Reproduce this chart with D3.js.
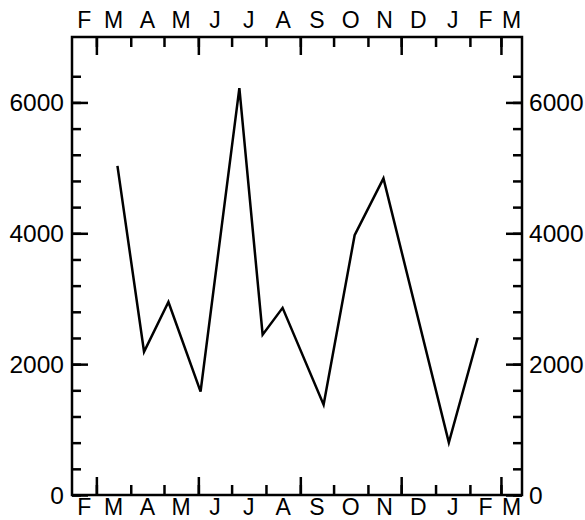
<!DOCTYPE html>
<html>
<head>
<meta charset="utf-8">
<script src="https://cdn.jsdelivr.net/npm/d3@7"></script>
<style>
  html, body { margin: 0; padding: 0; background: #fff; }
  svg { display: block; }
  text { font-family: "Liberation Sans", Arial, Helvetica, sans-serif; fill: #000; }
</style>
</head>
<body>
<svg id="chart"></svg>
<script>
// sample dates and values
const dates = ["2001-03-20", "2001-04-13", "2001-05-05", "2001-06-03", "2001-07-08", "2001-07-29",
               "2001-08-16", "2001-09-22", "2001-10-20", "2001-11-15", "2002-01-13", "2002-02-08"];
const values = [5030, 2190, 2950, 1580, 6220, 2450, 2860, 1380, 3970, 4840, 800, 2400];

const monthLetters = ["F", "M", "A", "M", "J", "J", "A", "S", "O", "N", "D", "J", "F", "M"];
const yLabelTicks = [0, 2000, 4000, 6000];

const width = 585;
const height = 520;
const plotLeft = 72, plotRight = 522, plotTop = 37, plotBottom = 495;

const parse = d3.timeParse("%Y-%m-%d");
const data = dates.map((d, i) => ({ date: parse(d), value: values[i] }));

const x = d3.scaleTime()
    .domain([parse("2001-02-07"), parse("2002-03-20")])
    .range([plotLeft, plotRight]);

const y = d3.scaleLinear()
    .domain([0, 7000])
    .range([plotBottom, plotTop]);

const svg = d3.select("#chart")
    .attr("width", width)
    .attr("height", height)
    .attr("viewBox", [0, 0, width, height]);

const monthStarts = d3.timeMonth.range(parse("2001-03-01"), parse("2002-03-02"));
const majorMonths = monthStarts.filter(d => d.getMonth() % 3 === 2);
const minorY = d3.range(0, 6401, 400);

const styleAxis = g => {
    g.select(".domain").remove();
    g.selectAll(".tick line").attr("stroke", "#000").attr("stroke-width", 2.5);
};

// x ticks, pointing inwards on both the top and the bottom
const xAxis = (pos, size, vals) => {
    const ax = pos === "bottom" ? d3.axisBottom(x) : d3.axisTop(x);
    svg.append("g")
        .attr("transform", `translate(0,${pos === "bottom" ? plotBottom : plotTop})`)
        .call(ax.tickValues(vals).tickSize(-size).tickFormat(""))
        .call(styleAxis);
};
xAxis("bottom", 10, monthStarts);
xAxis("bottom", 18, majorMonths);
xAxis("top", 10, monthStarts);
xAxis("top", 18, majorMonths);

// y ticks, inwards on left and right
const yAxis = (pos, size, vals) => {
    const ax = pos === "left" ? d3.axisLeft(y) : d3.axisRight(y);
    svg.append("g")
        .attr("transform", `translate(${pos === "left" ? plotLeft : plotRight},0)`)
        .call(ax.tickValues(vals).tickSize(-size).tickFormat(""))
        .call(styleAxis);
};
yAxis("left", 9, minorY);
yAxis("left", 16, yLabelTicks);
yAxis("right", 9, minorY);
yAxis("right", 16, yLabelTicks);

// frame
svg.append("rect")
    .attr("x", plotLeft).attr("y", plotTop)
    .attr("width", plotRight - plotLeft).attr("height", plotBottom - plotTop)
    .attr("fill", "none")
    .attr("stroke", "#000")
    .attr("stroke-width", 2.5);

// month letters centred on the visible part of each month
const firstMonth = parse("2001-02-01");
const monthLabels = monthLetters.map((m, i) => {
    const s = d3.timeMonth.offset(firstMonth, i);
    const e = d3.timeMonth.offset(firstMonth, i + 1);
    const a = Math.max(x(s), plotLeft), b = Math.min(x(e), plotRight);
    return { m, cx: (a + b) / 2 };
});

svg.append("g").selectAll("text")
    .data(monthLabels)
    .join("text")
    .attr("x", d => d.cx)
    .attr("y", 28)
    .attr("text-anchor", "middle")
    .attr("font-size", 23)
    .text(d => d.m);

svg.append("g").selectAll("text")
    .data(monthLabels)
    .join("text")
    .attr("x", d => d.cx)
    .attr("y", 515)
    .attr("text-anchor", "middle")
    .attr("font-size", 23)
    .text(d => d.m);

// value labels
svg.append("g").selectAll("text")
    .data(yLabelTicks)
    .join("text")
    .attr("x", plotLeft - 8)
    .attr("y", d => y(d))
    .attr("dy", "0.36em")
    .attr("text-anchor", "end")
    .attr("font-size", 24.5)
    .text(d => d);

svg.append("g").selectAll("text")
    .data(yLabelTicks)
    .join("text")
    .attr("x", plotRight + 7)
    .attr("y", d => y(d))
    .attr("dy", "0.36em")
    .attr("text-anchor", "start")
    .attr("font-size", 24.5)
    .text(d => d);

// the series
const line = d3.line()
    .x(d => x(d.date))
    .y(d => y(d.value));

svg.append("path")
    .datum(data)
    .attr("d", line)
    .attr("fill", "none")
    .attr("stroke", "#000")
    .attr("stroke-width", 2.5)
    .attr("stroke-linejoin", "miter");
</script>
</body>
</html>
